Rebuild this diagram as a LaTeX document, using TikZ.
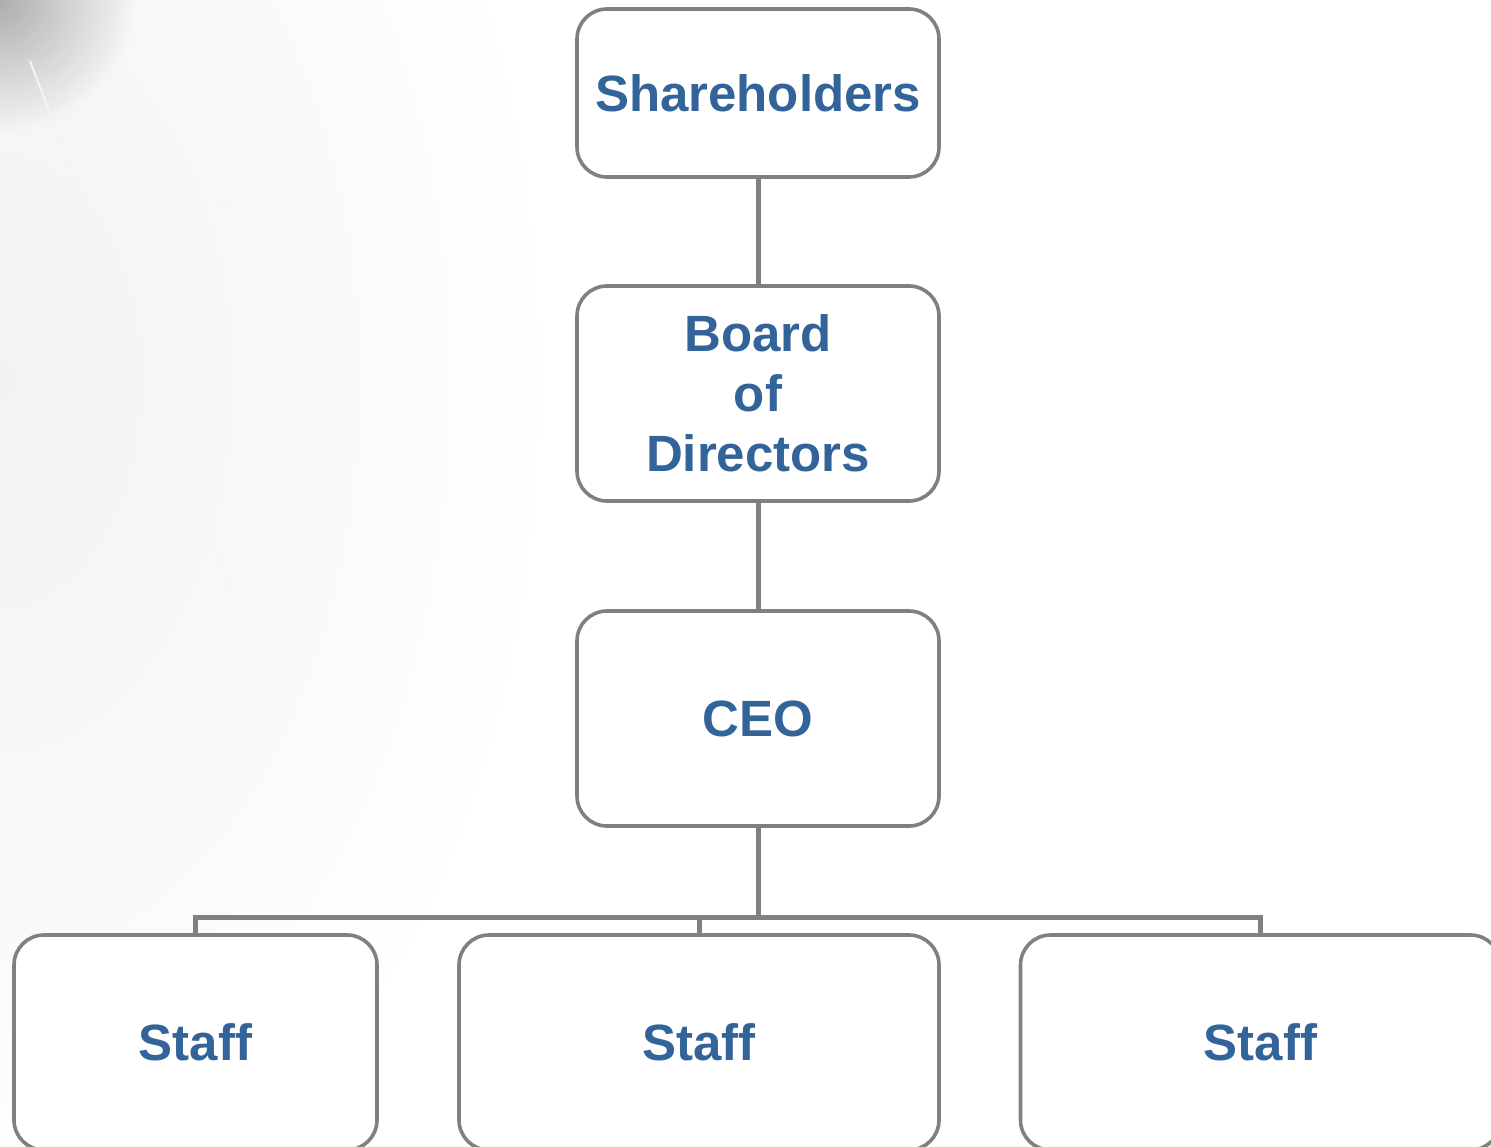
\documentclass[tikz,border=0pt]{standalone}
\usepackage{fontspec}
\usetikzlibrary{fadings}
\setmainfont{Liberation Sans}
\definecolor{txtblue}{RGB}{50,99,153}
\definecolor{boxgray}{RGB}{128,128,128}
\begin{document}
\begin{tikzpicture}[x=1pt,y=-1pt,
  orgbox/.style={draw=boxgray, line width=3.6pt, fill=white, rounded corners=30pt,
    inner sep=0pt, align=center, text=txtblue,
    font=\bfseries\fontsize{51}{60}\selectfont},
  link/.style={draw=boxgray, line width=5pt, line join=miter}]
\useasboundingbox (0,0) rectangle (1491,1147);
\clip (0,0) rectangle (1491,1147);
% faint background watermark
\shade[inner color=gray!10, outer color=white] (0,380) ellipse (560 and 900);
\shade[inner color=gray!70, outer color=white, opacity=0.9, path fading=circle with fuzzy edge 20 percent] (0,0) circle (150);
\draw[gray!9, line width=2pt, path fading=south] (30,60) -- (250,640);
\draw[gray!7, line width=1.5pt, path fading=east] (0,260) -- (240,200);
% nodes
\node[orgbox, minimum width=362pt, minimum height=168pt] (sh) at (758,93) {Shareholders};
\node[orgbox, minimum width=362pt, minimum height=215pt] (bd) at (758,393.5) {Board\\of\\Directors};
\node[orgbox, minimum width=362pt, minimum height=215pt] (ceo) at (758,718.5) {CEO};
\node[orgbox, minimum width=363pt, minimum height=215pt] (s1) at (195.5,1042.5) {Staff};
\node[orgbox, minimum width=480pt, minimum height=215pt] (s2) at (699,1042.5) {Staff};
\node[orgbox, minimum width=480pt, minimum height=215pt] (s3) at (1260.5,1042.5) {Staff};
\coordinate (bus) at (758,917.5);
% connectors
\draw[link] (sh.south) -- (bd.north);
\draw[link] (bd.south) -- (ceo.north);
\draw[link] (ceo.south) -- (bus);
\draw[link] (s1.north) |- (bus) -| (s3.north);
\draw[link] (s2.north) -- (s2.north |- bus);
\end{tikzpicture}
\end{document}
